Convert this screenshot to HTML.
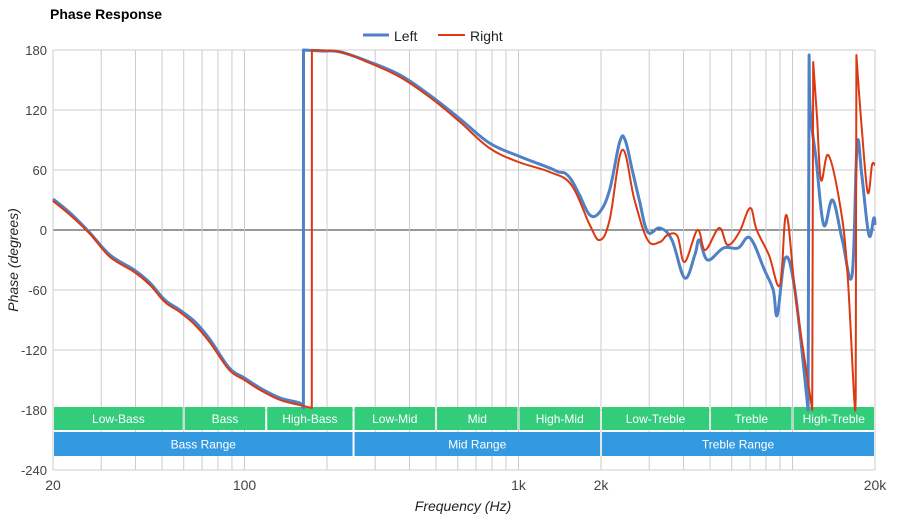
<!DOCTYPE html>
<html><head><meta charset="utf-8"><style>
body{margin:0;background:#fff;font-family:"Liberation Sans",Arial,sans-serif}
svg text{font-family:"Liberation Sans",Arial,sans-serif}
</style></head><body>
<svg id="chart" width="900" height="520" viewBox="0 0 900 520">
<text x="50" y="19" font-size="14" font-weight="bold" fill="#000">Phase Response</text>
<g>
<g><line x1="363" y1="35" x2="389" y2="35" stroke="#4f81c4" stroke-width="3"/><text x="394" y="41" font-size="14" fill="#222">Left</text></g>
<g><line x1="438" y1="35" x2="465" y2="35" stroke="#dc3912" stroke-width="2"/><text x="470" y="41" font-size="14" fill="#222">Right</text></g>
</g>
<g id="grid"></g>
<g id="bands"></g>
<g id="series"></g>
<g id="axes"></g>
<text x="18" y="260" font-size="14" font-style="italic" fill="#222" text-anchor="middle" transform="rotate(-90 18 260)">Phase (degrees)</text>
<text x="463" y="511" font-size="14" font-style="italic" fill="#222" text-anchor="middle">Frequency (Hz)</text>
</svg>
<script>
const yTicks=[180,120,60,0,-60,-120,-180,-240];
const xTickVals=[20,100,1000,2000,20000];
const xTickLabels=["20","100","1k","2k","20k"];
const leftFreq=[20,23.1,27.3,32.3,39.6,45.2,51.2,58,66,75,88,100,114,135,159,164,164.1,190,224,286,369,473,606,783,1000,1300,1400,1475,1560,1670,1820,1980,2150,2340,2450,2600,2760,2960,3280,3630,4040,4400,4570,4900,5600,6330,7000,7900,8500,8800,9400,10200,11400,11500,11600,12200,13000,14000,15200,16500,17200,17900,19000,19800,20000];
const leftPhase=[31,17,-3,-25,-40,-53,-70,-80,-92,-110,-138,-148,-158,-168,-173,-178,180,179,178,168,155,135,112,87,74,62,58,57,50,35,15,18,40,88,90,60,30,-2,2,-10,-48,-25,-10,-30,-18,-18,-8,-40,-60,-85,-28,-60,-180,175,120,70,5,30,-10,-45,85,55,-5,12,5];
const rightFreq=[20,23.1,27.3,32.3,39.6,45.2,51.2,58,66,75,88,100,114,135,159,176,176.1,224,286,369,473,606,783,1000,1300,1560,1820,1980,2150,2390,2650,2960,3280,3500,3800,4040,4500,4800,5400,5800,6400,7000,7400,8200,9000,9500,10300,11800,11900,12300,12700,13500,14800,15800,16800,17000,17100,17800,18800,19500,20000];
const rightPhase=[29,15,-4,-27,-42,-55,-72,-82,-95,-113,-140,-150,-160,-170,-175,-178,180,178,167,153,133,109,82,68,58,45,5,-10,10,80,30,-10,-12,-5,-6,-32,0,-20,2,-15,-2,22,0,-25,-55,15,-70,-180,168,110,50,75,30,-35,-170,-170,175,110,38,65,65];
const bandsTop=[["Low-Bass",20,60],["Bass",60,120],["High-Bass",120,250],["Low-Mid",250,500],["Mid",500,1000],["High-Mid",1000,2000],["Low-Treble",2000,5000],["Treble",5000,10000],["High-Treble",10000,20000]];
const bandsBot=[["Bass Range",20,250],["Mid Range",250,2000],["Treble Range",2000,20000]];
const NS="http://www.w3.org/2000/svg";
const X0=53,X1=875,Y0=50,Y1=470;
function x(f){return X0+(Math.log10(f)-Math.log10(20))/3*(X1-X0);}
function y(v){return Y0+(180-v)/420*(Y1-Y0);}
function mk(tag,attrs,parent){const e=document.createElementNS(NS,tag);for(const k in attrs)e.setAttribute(k,attrs[k]);parent.appendChild(e);return e;}
const grid=document.getElementById('grid'),axes=document.getElementById('axes'),series=document.getElementById('series'),bands=document.getElementById('bands');
for(const v of yTicks){
 const l=mk('line',{x1:X0,x2:X1,y1:y(v),y2:y(v),stroke:v===0?'#333':'#ccc','stroke-width':1},grid);
 
 
 const t=mk('text',{x:47,y:y(v)+5,'font-size':13,'text-anchor':'end',fill:'#444'},axes);
 t.textContent=v;
 
 
}
for(let d=10;d<=10000;d*=10){for(let m=1;m<=9;m++){const f=d*m;if(f<20||f>20000)continue;
 const l=mk('line',{x1:x(f),x2:x(f),y1:Y0,y2:Y1,stroke:'#ccc','stroke-width':1},grid);
 
 }}
xTickVals.forEach((f,i)=>{
 const t=mk('text',{x:x(f),y:490,'font-size':14,'text-anchor':'middle',fill:'#444'},axes);
 t.textContent=xTickLabels[i];
 
 
});
function drawBands(arr,top,h,color){
 for(const b of arr){
  const x1=x(b[1])+1,x2=x(b[2])-1;
  const r=mk('rect',{x:x1,y:top,width:x2-x1,height:h,fill:color},bands);
  
  
  const t=mk('text',{x:(x1+x2)/2,y:top+h/2+4.5,'font-size':12,'text-anchor':'middle',fill:'#fff'},bands);
  t.textContent=b[0];
  
  
 }
}
drawBands(bandsTop,407,23,'#33cc7a');
drawBands(bandsBot,432,24,'#3399e0');
function smoothPath(pts){
 // split at wraps (large jumps), catmull-rom within segments
 const segs=[];let cur=[pts[0]];
 for(let i=1;i<pts.length;i++){
  if(Math.abs(pts[i][1]-pts[i-1][1])>200){segs.push(cur);cur=[pts[i]];}else cur.push(pts[i]);
 }
 segs.push(cur);
 let d='';
 segs.forEach((s,si)=>{
  d+=(si===0?'M':'L')+s[0][0].toFixed(1)+' '+s[0][1].toFixed(1);
  for(let i=0;i<s.length-1;i++){
   const p0=s[i-1]||s[i],p1=s[i],p2=s[i+1],p3=s[i+2]||s[i+1];
   const t=0.18;
   let c1x=p1[0]+(p2[0]-p0[0])*t,c1y=p1[1]+(p2[1]-p0[1])*t;
   let c2x=p2[0]-(p3[0]-p1[0])*t,c2y=p2[1]-(p3[1]-p1[1])*t;
   c1x=Math.min(Math.max(c1x,p1[0]),p2[0]);c2x=Math.min(Math.max(c2x,p1[0]),p2[0]);
   d+=' C'+c1x.toFixed(1)+' '+c1y.toFixed(1)+' '+c2x.toFixed(1)+' '+c2y.toFixed(1)+' '+p2[0].toFixed(1)+' '+p2[1].toFixed(1);
  }
 });
 return d;
}
function line(fr,ph,color,w,name){
 const pts=fr.map((f,i)=>[x(f),y(ph[i])]);
 const p=mk('path',{d:smoothPath(pts),fill:'none',stroke:color,'stroke-width':w,'stroke-linejoin':'round'},series);
 
 
}
line(leftFreq,leftPhase,'#4f81c4',3,'left-series-line');
line(rightFreq,rightPhase,'#dc3912',2,'right-series-line');
</script>
</body></html>
